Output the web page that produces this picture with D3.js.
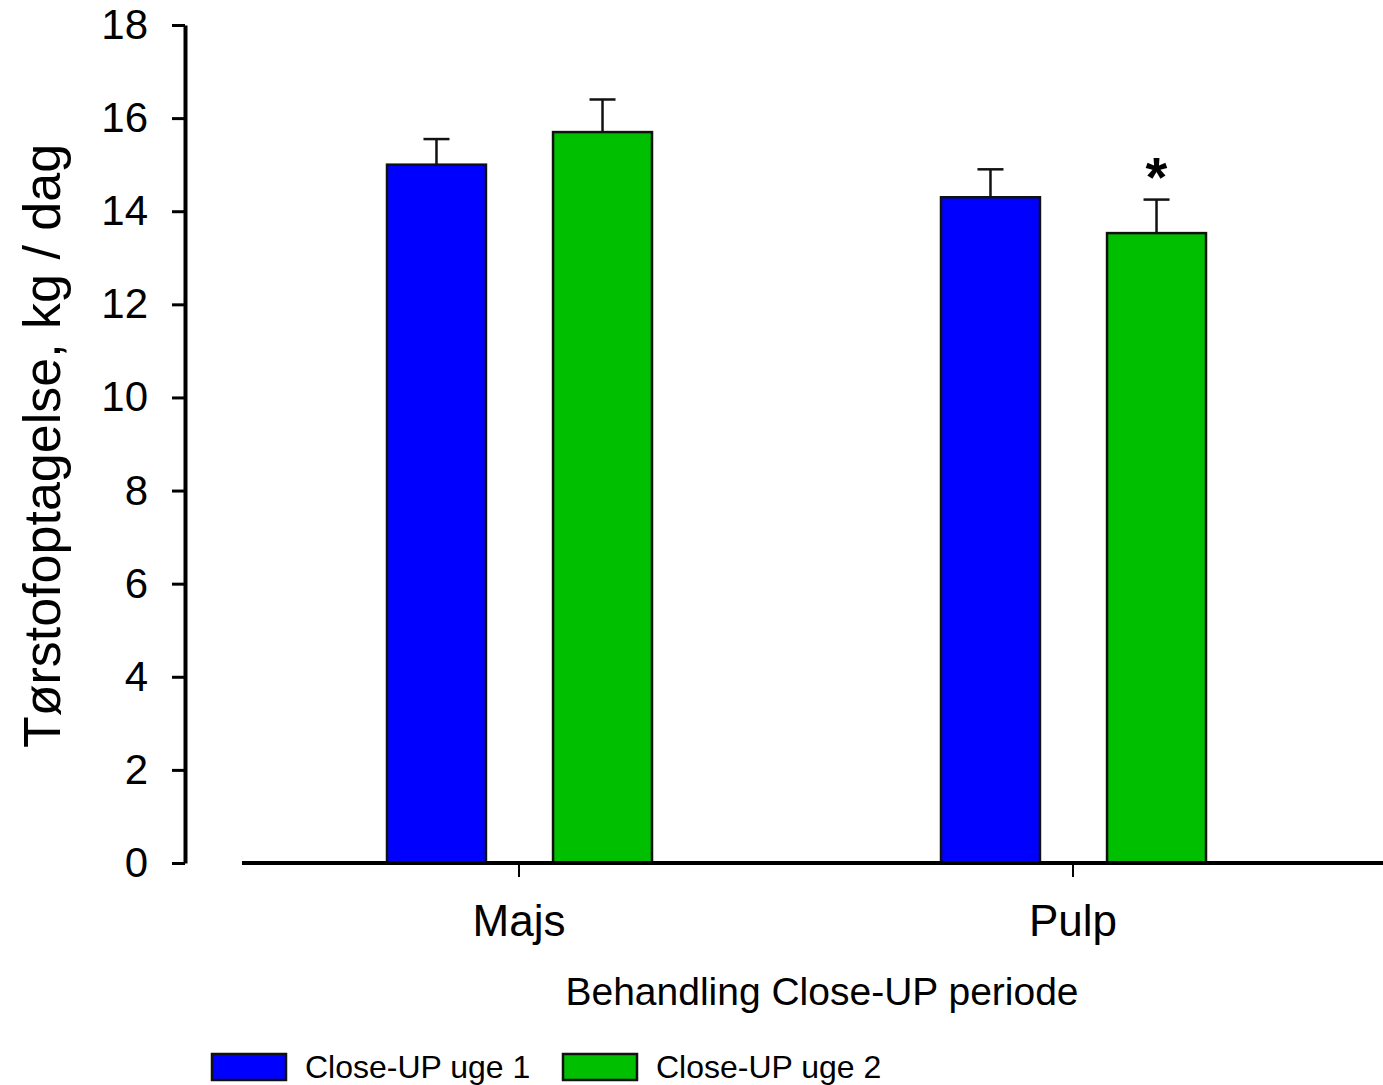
<!DOCTYPE html>
<html>
<head>
<meta charset="utf-8">
<script src="https://cdn.jsdelivr.net/npm/d3@7"></script>
<style>
  body { margin: 0; background: #fff; }
  svg { font-family: 'Liberation Sans', Arial, sans-serif; }
</style>
</head>
<body>
<svg id="chart" width="1383" height="1085"></svg>
<script>
// chart data
const categories = ['Majs', 'Pulp']
const seriesNames = ['Close-UP uge 1', 'Close-UP uge 2']
const seriesColors = ['#0000ff', '#00bf00']
const meansUge1 = [15.0, 14.3]
const meansUge2 = [15.7, 13.53]
const errUge1 = [0.55, 0.6]
const errUge2 = [0.7, 0.72]
const yTicks = [0, 2, 4, 6, 8, 10, 12, 14, 16, 18]
const significant = [[1, 1]] // [category, series] with an asterisk

const svg = d3.select('#chart')

const y = d3.scaleLinear().domain([0, 18]).range([863, 25])
const x0 = d3.scaleBand().domain(categories).range([242, 1350]).padding(0)
const x1 = d3.scaleBand().domain(seriesNames).range([145, 410]).paddingInner(0.404)

// build rows for the bars
const rows = []
categories.forEach(function (c, i) {
  rows.push({ cat: c, s: 0, v: meansUge1[i], e: errUge1[i] })
  rows.push({ cat: c, s: 1, v: meansUge2[i], e: errUge2[i] })
})

// error bars (drawn first, bars cover the lower part)
const eb = svg.append('g').attr('stroke', '#111').attr('stroke-width', 2.5)
rows.forEach(function (d) {
  const cx = x0(d.cat) + x1(seriesNames[d.s]) + x1.bandwidth() / 2
  eb.append('line')
    .attr('x1', cx).attr('x2', cx)
    .attr('y1', y(d.v)).attr('y2', y(d.v + d.e))
  eb.append('line')
    .attr('x1', cx - 13).attr('x2', cx + 13)
    .attr('y1', y(d.v + d.e)).attr('y2', y(d.v + d.e))
})

// bars
svg.append('g')
  .selectAll('rect')
  .data(rows)
  .enter().append('rect')
  .attr('x', function (d) { return x0(d.cat) + x1(seriesNames[d.s]) })
  .attr('y', function (d) { return y(d.v) })
  .attr('width', x1.bandwidth())
  .attr('height', function (d) { return y(0) - y(d.v) })
  .attr('fill', function (d) { return seriesColors[d.s] })
  .attr('stroke', '#111')
  .attr('stroke-width', 2.5)

// significance marks
significant.forEach(function (p) {
  const d = rows[p[0] * 2 + p[1]]
  const cx = x0(d.cat) + x1(seriesNames[d.s]) + x1.bandwidth() / 2
  svg.append('text')
    .attr('x', cx)
    .attr('y', y(d.v + d.e) - 4)
    .attr('text-anchor', 'middle')
    .attr('font-size', 56)
    .attr('font-weight', 'bold')
    .text('*')
})

// Y-axis
const yAxis = svg.append('g')
  .attr('transform', 'translate(185,0)')
  .call(d3.axisLeft(y).tickValues(yTicks).tickSize(13).tickPadding(24).tickSizeOuter(0))
yAxis.select('.domain').attr('stroke-width', 4)
yAxis.selectAll('.tick line').attr('stroke-width', 3)
yAxis.selectAll('.tick text').attr('font-size', 42).attr('font-family', "'Liberation Sans', Arial, sans-serif").attr('fill', '#000')

// X-axis
const xAxis = svg.append('g')
  .attr('transform', 'translate(0,863)')
  .call(d3.axisBottom(x0).tickSize(14).tickPadding(28).tickSizeOuter(0))
xAxis.select('.domain').remove()
xAxis.selectAll('.tick line').attr('stroke-width', 2)
xAxis.selectAll('.tick text').attr('font-size', 44).attr('font-family', "'Liberation Sans', Arial, sans-serif").attr('fill', '#000')
svg.append('line')
  .attr('x1', 242).attr('x2', 1383)
  .attr('y1', 863).attr('y2', 863)
  .attr('stroke', '#000').attr('stroke-width', 4)

// axis titles
svg.append('text')
  .attr('transform', 'translate(60,446) rotate(-90)')
  .attr('text-anchor', 'middle')
  .attr('font-size', 52)
  .text('Tørstofoptagelse, kg / dag')

svg.append('text')
  .attr('x', 822).attr('y', 1005)
  .attr('text-anchor', 'middle')
  .attr('font-size', 39)
  .text('Behandling Close-UP periode')

// legend
const legendX = [212, 563]
const legend = svg.append('g')
seriesNames.forEach(function (name, i) {
  legend.append('rect')
    .attr('x', legendX[i]).attr('y', 1054)
    .attr('width', 74).attr('height', 26)
    .attr('fill', seriesColors[i])
    .attr('stroke', '#111').attr('stroke-width', 2.5)
  legend.append('text')
    .attr('x', legendX[i] + 93).attr('y', 1078)
    .attr('font-size', 32)
    .text(name)
})
</script>
</body>
</html>
